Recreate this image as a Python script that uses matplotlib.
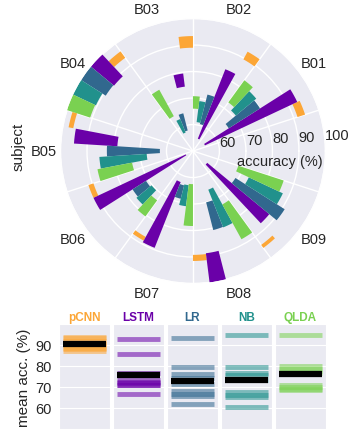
import numpy as np
import matplotlib
matplotlib.use('Agg')
import matplotlib.pyplot as plt
import seaborn as sns

sns.set_style('darkgrid')
plt.rcParams['font.family'] = ['Liberation Sans', 'DejaVu Sans']

subjects = ['B01', 'B02', 'B03', 'B04', 'B05', 'B06', 'B07', 'B08', 'B09']
methods = ['pCNN', 'LSTM', 'LR', 'NB', 'QLDA']
colors = ['#fca636', '#6a00a8', '#31688e', '#21918c', '#7ad151']

# radial extent (bottom, top) of each bar in the polar plot, one entry per subject
pcnn_lo = [91.5, 89.5, 89.0, 93.5, 96.0, 89.5, 87.0, 89.2, 93.8]
pcnn_hi = [94.5, 92.8, 93.4, 96.5, 97.8, 91.5, 88.6, 91.5, 95.2]
lstm_lo = [55.0, 55.0, 74.5, 88.7, 78.6, 53.0, 62.6, 88.9, 57.0]
lstm_hi = [93.5, 83.2, 79.5, 100.0, 95.0, 91.5, 89.3, 100.0, 87.4]
lr_lo = [66.0, 60.5, 58.0, 89.0, 62.5, 71.0, 63.4, 70.0, 69.0]
lr_hi = [80.0, 72.0, 64.7, 100.0, 82.5, 77.0, 68.6, 80.8, 91.0]
nb_lo = [71.0, 61.0, 57.5, 90.5, 67.5, 70.3, 63.0, 65.7, 73.3]
nb_hi = [81.0, 69.0, 63.0, 100.0, 85.4, 77.7, 71.0, 81.0, 87.5]
qlda_lo = [72.7, 66.0, 65.0, 90.8, 73.4, 73.0, 62.5, 73.0, 68.0]
qlda_hi = [83.0, 70.7, 76.4, 100.0, 86.7, 80.5, 78.3, 88.0, 86.0]

# accuracies per subject shown in the lower panel
pcnn_acc = [94.0, 93.5, 92.0, 91.0, 90.5, 89.5, 88.5, 88.0, 87.0]
lstm_acc = [93.0, 85.5, 76.5, 73.5, 72.5, 72.0, 71.0, 71.0, 66.5]
lr_acc = [93.5, 79.5, 76.0, 74.0, 71.5, 68.0, 66.5, 65.5, 62.0]
nb_acc = [94.5, 79.5, 76.5, 75.5, 73.5, 67.5, 66.0, 65.0, 60.5]
qlda_acc = [94.5, 80.0, 78.5, 77.5, 76.5, 71.0, 70.0, 69.0, 68.5]

lows = [pcnn_lo, lstm_lo, lr_lo, nb_lo, qlda_lo]
highs = [pcnn_hi, lstm_hi, lr_hi, nb_hi, qlda_hi]
accs = [pcnn_acc, lstm_acc, lr_acc, nb_acc, qlda_acc]

fig = plt.figure(figsize=(3.49, 4.35), dpi=100)

# polar plot
ax = fig.add_axes([0.1734, 0.346, 0.759, 0.609], projection='polar')
step = 36.0
bw = step / 5
centers = np.arange(1, 10) * step
for i in range(5):
    th = np.deg2rad(centers + (i - 2) * bw)
    lo = np.array(lows[i])
    hi = np.array(highs[i])
    ax.bar(th, hi - lo, bottom=lo, width=np.deg2rad(bw), color=colors[i],
           linewidth=0, zorder=3)

ax.set_ylim(50, 100)
ax.set_yticks([60, 70, 80, 90, 100])
ax.set_yticklabels(['60', '70', '80', '90', '100'], fontsize=10.5)
ax.set_rlabel_position(4)
ax.set_xticks(np.deg2rad(np.arange(10) * step + step / 2))
ax.set_xticklabels([])
ax.set_xticks(np.deg2rad(centers), subjects, minor=True)
ax.tick_params(axis='x', which='minor', labelsize=10.5, pad=3)
ax.grid(True, color='white', linewidth=1)
ax.text(np.deg2rad(-6.5), 83, 'accuracy (%)', ha='center', va='center',
        fontsize=10.5)
fig.text(0.052, 1 - 147 / 435, 'subject', rotation=90, ha='center',
         va='center', fontsize=11)

# lower panel, one column per method
for i in range(5):
    bx = fig.add_axes([0.169 + i * 0.1547, 0.012, 0.146, 0.241])
    bx.hlines(accs[i], 0.08, 0.92, color=colors[i], alpha=0.55, linewidth=3.5)
    bx.hlines(np.mean(accs[i]), 0.08, 0.92, color='black', linewidth=4.5)
    bx.set_xlim(0, 1)
    bx.set_ylim(50, 100)
    bx.set_xticks([])
    bx.set_yticks([60, 70, 80, 90])
    bx.set_title(methods[i], color=colors[i], fontweight='bold', fontsize=8.5,
                 pad=3)
    if i == 0:
        bx.tick_params(axis='y', labelsize=10.5, pad=2)
        bx.set_ylabel('mean acc. (%)', fontsize=11, labelpad=3)
    else:
        bx.set_yticklabels([])

fig.savefig('out.png', dpi=100)
